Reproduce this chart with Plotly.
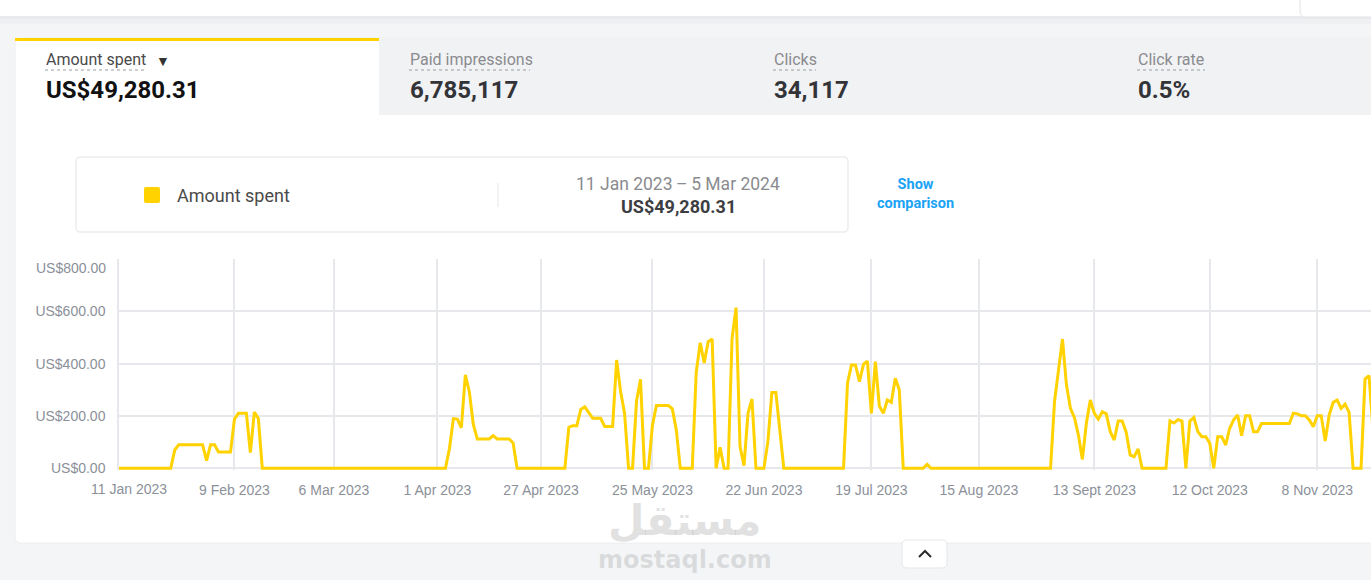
import plotly.graph_objects as go
import pandas as pd

# ---------------- data ----------------
START_DATE = "2023-01-11"
RANGE_END = "2023-11-21 12:00"

amount_spent = [
    0, 0, 0, 0, 0, 0, 0, 0, 0, 0,
    0, 0, 0, 0, 70, 90, 90, 90, 90, 90,
    90, 90, 29, 90, 90, 62, 62, 62, 62, 188,
    210, 210, 210, 60, 215, 190, 0, 0, 0, 0,
    0, 0, 0, 0, 0, 0, 0, 0, 0, 0,
    0, 0, 0, 0, 0, 0, 0, 0, 0, 0,
    0, 0, 0, 0, 0, 0, 0, 0, 0, 0,
    0, 0, 0, 0, 0, 0, 0, 0, 0, 0,
    0, 0, 0, 75, 190, 188, 155, 357, 293, 168,
    112, 112, 112, 112, 125, 112, 112, 112, 112, 97,
    0, 0, 0, 0, 0, 0, 0, 0, 0, 0,
    0, 0, 0, 157, 163, 163, 225, 235, 215, 191,
    191, 191, 160, 160, 160, 414, 293, 210, 0, 0,
    257, 340, 0, 0, 165, 240, 240, 240, 240, 227,
    146, 0, 0, 0, 0, 367, 480, 403, 484, 494,
    0, 80, 0, 0, 497, 614, 83, 10, 210, 265,
    0, 0, 0, 102, 290, 290, 140, 0, 0, 0,
    0, 0, 0, 0, 0, 0, 0, 0, 0, 0,
    0, 0, 0, 325, 395, 395, 331, 397, 410, 210,
    408, 238, 210, 261, 252, 344, 300, 0, 0, 0,
    0, 0, 0, 15, 0, 0, 0, 0, 0, 0,
    0, 0, 0, 0, 0, 0, 0, 0, 0, 0,
    0, 0, 0, 0, 0, 0, 0, 0, 0, 0,
    0, 0, 0, 0, 0, 255, 382, 494, 318, 229,
    194, 127, 34, 172, 261, 210, 188, 216, 208, 140,
    108, 181, 181, 138, 51, 44, 74, 0, 0, 0,
    0, 0, 0, 0, 181, 173, 186, 181, 0, 181,
    194, 140, 121, 121, 96, 0, 121, 121, 89, 153,
    185, 204, 125, 201, 201, 140, 140, 171, 171, 171,
    171, 171, 171, 171, 171, 211, 208, 201, 201, 185,
    159, 201, 201, 104, 204, 252, 261, 229, 245, 214,
    0, 0, 0, 341, 354, 150,
]

x_tick_dates = ["2023-01-11", "2023-02-09", "2023-03-06", "2023-04-01",
                "2023-04-27", "2023-05-25", "2023-06-22", "2023-07-19",
                "2023-08-15", "2023-09-13", "2023-10-12", "2023-11-08"]
x_tick_labels = ["11 Jan 2023", "9 Feb 2023", "6 Mar 2023", "1 Apr 2023",
                 "27 Apr 2023", "25 May 2023", "22 Jun 2023", "19 Jul 2023",
                 "15 Aug 2023", "13 Sept 2023", "12 Oct 2023", "8 Nov 2023"]
y_tick_values = [0, 200, 400, 600, 800]
y_tick_labels = ["US$0.00", "US$200.00", "US$400.00", "US$600.00", "US$800.00"]

metric_names = ["Amount spent", "Paid impressions", "Clicks", "Click rate"]
metric_values = ["US$49,280.31", "6,785,117", "34,117", "0.5%"]
series_name = "Amount spent"
date_range_label = "11 Jan 2023\u2009\u2013\u20095 Mar 2024"
total_label = "US$49,280.31"
comparison_label = "Show<br>comparison"
watermark_ar = "مستقل"
watermark_en = "mostaql.com"

dates = pd.date_range(START_DATE, periods=len(amount_spent), freq="D")

# ---------------- geometry helpers (pixel -> paper) ----------------
W, H = 1371, 580
L, R, T, B = 119, 1371, 259, 470


def fx(px):
    return (px - L) / (R - L)


def fy(py):
    return (B - py) / (B - T)


def rrect_path(x0, y0, x1, y1, r):
    pts = [
        ("M", [(x0 + r, y0)]), ("L", [(x1 - r, y0)]), ("Q", [(x1, y0), (x1, y0 + r)]),
        ("L", [(x1, y1 - r)]), ("Q", [(x1, y1), (x1 - r, y1)]),
        ("L", [(x0 + r, y1)]), ("Q", [(x0, y1), (x0, y1 - r)]),
        ("L", [(x0, y0 + r)]), ("Q", [(x0, y0), (x0 + r, y0)]),
    ]
    s = ""
    for cmd, ps in pts:
        s += cmd + " " + " ".join(f"{fx(a):.6f},{fy(b):.6f}" for a, b in ps) + " "
    return s + "Z"


YELLOW = "#FFD200"
GRID = "#e6e8eb"
TICK = "#8b9099"
PAGE = "#f4f5f7"
TABGRAY = "#f1f2f4"

fig = go.Figure()
fig.add_trace(go.Scatter(
    x=dates, y=amount_spent, mode="lines",
    line=dict(color=YELLOW, width=3),
    name=series_name, showlegend=False, hoverinfo="x+y",
))

shapes = []


def rect(x0, y0, x1, y1, fill, line=None, lw=0, layer="below"):
    shapes.append(dict(type="rect", xref="paper", yref="paper",
                       x0=fx(x0), x1=fx(x1), y0=fy(y1), y1=fy(y0),
                       fillcolor=fill, line=dict(color=line or fill, width=lw),
                       layer=layer))


def path(p, fill, line, lw, layer="below"):
    shapes.append(dict(type="path", xref="paper", yref="paper", path=p,
                       fillcolor=fill, line=dict(color=line, width=lw), layer=layer))


def hline(x0, x1, y, color, w, dash="solid", layer="below"):
    shapes.append(dict(type="line", xref="paper", yref="paper",
                       x0=fx(x0), x1=fx(x1), y0=fy(y), y1=fy(y),
                       line=dict(color=color, width=w, dash=dash), layer=layer))


# top white header strip + shadow
rect(-10, -10, 1400, 16, "white")
rect(-10, 16, 1400, 19, "#e9eaed")
rect(-10, 19, 1400, 24, "#eff0f2")
# top-right floating element
path(rrect_path(1300, -20, 1420, 17, 6), "white", "#e3e4e7", 1)

# card
path(rrect_path(15, 38, 1420, 543, 6), "white", "#eceef0", 1)
# inactive tabs region
rect(379, 38, 1420, 115, TABGRAY)
# active tab yellow top border
rect(15, 38, 379, 41, YELLOW)

# legend box
path(rrect_path(76, 157, 848, 232, 4), "white", "#e1e3e6", 1)
path(rrect_path(144, 187, 160, 203, 2), YELLOW, YELLOW, 0)
shapes.append(dict(type="line", xref="paper", yref="paper",
                   x0=fx(498), x1=fx(498), y0=fy(183), y1=fy(207),
                   line=dict(color="#e6e7ea", width=1), layer="below"))

# dashed underlines of metric names
name_x = [45, 409, 773, 1137]
name_w = [101, 121, 43, 68]
for i in range(4):
    hline(name_x[i], name_x[i] + name_w[i], 70, "#9a9ca1", 1, dash="dot")

# bottom toggle button
path(rrect_path(902, 540, 947, 568, 5), "white", "#e6e7ea", 1, layer="above")
shapes.append(dict(type="path", xref="paper", yref="paper",
                   path=f"M {fx(919)},{fy(557)} L {fx(925)},{fy(551)} L {fx(931)},{fy(557)}",
                   line=dict(color="#2b2b2b", width=2), layer="above"))

ann = []


def text(x, y, s, size, color, family="Roboto", xanchor="left", yanchor="middle",
         bold=False, align="left"):
    ann.append(dict(xref="paper", yref="paper", x=fx(x), y=fy(y), text=(f"<b>{s}</b>" if bold else s),
                    showarrow=False, xanchor=xanchor, yanchor=yanchor, align=align,
                    font=dict(size=size, color=color, family=family)))


# metric tabs
for i in range(4):
    text(name_x[i] - 1, 60, metric_names[i], 16, "#4a4a4a" if i == 0 else "#8a8b8f")
    text(name_x[i] - 1, 90, metric_values[i], 24, "#111111" if i == 0 else "#333438", bold=True)
text(163, 61, "▼", 14, "#333333", xanchor="center")

# legend box content
text(175, 195, series_name, 18, "#4a4a4a")
text(678, 184, date_range_label, 17.5, "#8a8b8f", xanchor="center")
text(678, 206, total_label, 18, "#3d3e42", xanchor="center", bold=True)
text(915, 194, comparison_label, 14.5, "#1aa3f5", xanchor="center", bold=True, align="center")

# axis labels that are nudged inside the plot in the original
text(108, 267.5, y_tick_labels[-1], 14, TICK, family="Liberation Sans", xanchor="right")
text(129, 489, x_tick_labels[0], 14, TICK, family="Liberation Sans", xanchor="center")

# watermark
WM = "rgba(150,150,150,0.28)"
text(685, 547, watermark_ar, 42, WM, family="DejaVu Sans", xanchor="center", yanchor="bottom", bold=True)
text(685, 544, watermark_en, 24, WM, family="DejaVu Sans", xanchor="center", yanchor="top", bold=True)

fig.update_layout(
    width=W, height=H,
    margin=dict(l=L, r=W - R, t=T, b=H - B, pad=0),
    paper_bgcolor=PAGE, plot_bgcolor="white",
    shapes=shapes, annotations=ann,
    showlegend=False,
    xaxis=dict(
        type="date", range=[START_DATE, RANGE_END],
        tickmode="array", tickvals=x_tick_dates,
        ticktext=[""] + x_tick_labels[1:],
        showgrid=True, gridcolor=GRID, gridwidth=1.5,
        zeroline=False, showline=False, ticks="",
        ticklabelstandoff=10,
        tickfont=dict(family="Liberation Sans", size=14, color=TICK),
    ),
    yaxis=dict(
        range=[-6.5, 800], tickmode="array", tickvals=y_tick_values,
        ticktext=y_tick_labels[:-1] + [""],
        showgrid=True, gridcolor=GRID, gridwidth=1.5,
        zeroline=False, showline=True, linecolor=GRID, linewidth=1.5,
        ticks="", ticklabelstandoff=9,
        tickfont=dict(family="Liberation Sans", size=14, color=TICK),
    ),
)

fig.write_html("out.html")
